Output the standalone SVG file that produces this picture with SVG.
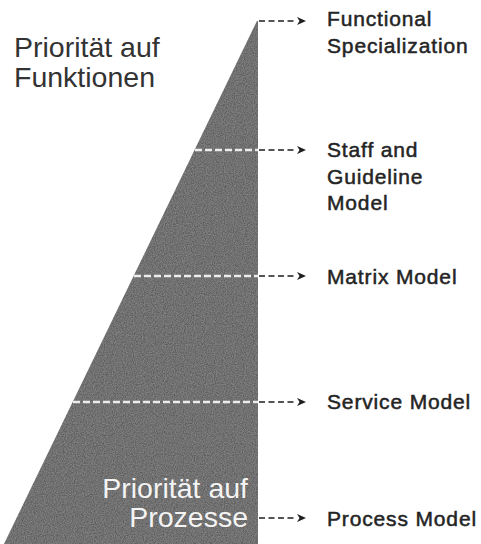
<svg xmlns="http://www.w3.org/2000/svg" width="481" height="544" viewBox="0 0 481 544">
  <style>
    .lbl { font-family: "Liberation Sans", Arial, sans-serif; font-size: 21px; letter-spacing: 0.85px; fill: #242424; stroke: #242424; stroke-width: 0.5; }
    .big { font-family: "Liberation Sans", Arial, sans-serif; font-size: 28.5px; }
    .dark { fill: #333333; }
    .light { fill: #f4f4f4; }
    .wdash { stroke: #ececec; stroke-width: 2.5; stroke-dasharray: 7 3; fill: none; }
    .bdash { stroke: #1e1e1e; stroke-width: 1.6; stroke-dasharray: 6 3.5; fill: none; marker-end: url(#ah); }
  </style>
  <defs>
    <marker id="ah" markerUnits="userSpaceOnUse" markerWidth="12" markerHeight="12" refX="0" refY="5" orient="auto">
      <path d="M0,1 L9,5 L0,9 L2.5,5 z" fill="#1e1e1e"/>
    </marker>
    <filter id="grain" x="0" y="0" width="100%" height="100%">
      <feTurbulence type="fractalNoise" baseFrequency="0.9" numOctaves="2" seed="3" result="n"/>
      <feColorMatrix in="n" type="matrix" values="0 0 0 0 0.35  0 0 0 0 0.35  0 0 0 0 0.35  0.9 0 0 0 -0.2" result="g"/>
      <feComposite in="g" in2="SourceGraphic" operator="in" result="gi"/>
      <feMerge><feMergeNode in="SourceGraphic"/><feMergeNode in="gi"/></feMerge>
    </filter>
  </defs>
  <rect width="481" height="544" fill="#ffffff"/>

  <g id="wedge">
    <polygon points="257,21 258,21 258,544 4,544" fill="#5c5c5c" filter="url(#grain)"/>
  </g>

  <g id="title-top">
    <text class="big dark" x="14" y="57">Priorität auf</text>
    <text class="big dark" x="14" y="87">Funktionen</text>
  </g>
  <g id="title-bottom">
    <text class="big light" x="248" y="498" text-anchor="end">Priorität auf</text>
    <text class="big light" x="248" y="527" text-anchor="end">Prozesse</text>
  </g>

  <g id="connectors">
    <line class="wdash" x1="195" y1="150" x2="258" y2="150"/>
    <line class="wdash" x1="134" y1="276" x2="258" y2="276"/>
    <line class="wdash" x1="73" y1="402" x2="258" y2="402"/>
    <line class="bdash" x1="259" y1="21" x2="297" y2="21"/>
    <line class="bdash" x1="259" y1="150" x2="297" y2="150"/>
    <line class="bdash" x1="259" y1="276" x2="297" y2="276"/>
    <line class="bdash" x1="259" y1="402" x2="297" y2="402"/>
    <line class="bdash" x1="259" y1="518" x2="297" y2="518"/>
  </g>

  <g id="functional">
    <text class="lbl" x="327" y="26">Functional</text>
    <text class="lbl" x="327" y="53">Specialization</text>
  </g>
  <g id="staff">
    <text class="lbl" x="327" y="157">Staff and</text>
    <text class="lbl" x="327" y="183.5">Guideline</text>
    <text class="lbl" x="327" y="210">Model</text>
  </g>
  <g id="matrix">
    <text class="lbl" x="327" y="284">Matrix Model</text>
  </g>
  <g id="service">
    <text class="lbl" x="327" y="409">Service Model</text>
  </g>
  <g id="process">
    <text class="lbl" x="327" y="526">Process Model</text>
  </g>
</svg>
